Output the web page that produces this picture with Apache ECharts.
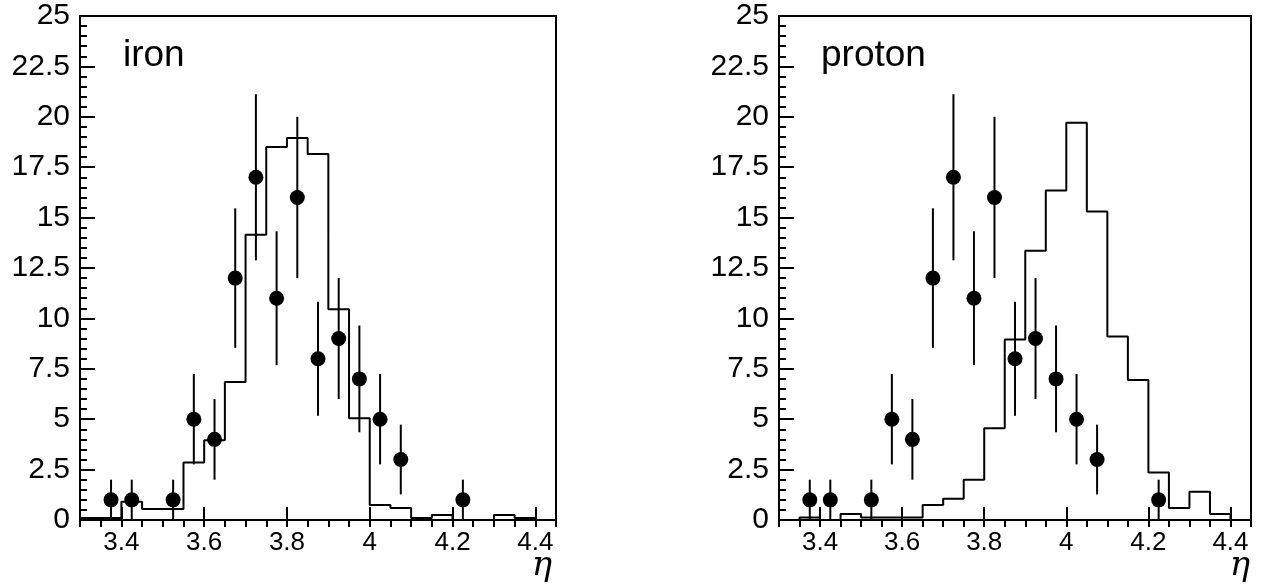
<!DOCTYPE html>
<html>
<head>
<meta charset="utf-8">
<script src="https://cdn.jsdelivr.net/npm/echarts@6/dist/echarts.min.js"></script>
<style>
html,body{margin:0;padding:0;background:#fff;}
#chart{width:1263px;height:587px;}
</style>
</head>
<body>
<div id="chart"></div>
<script>
// Bin left edges (width 0.05) and the last right edge
const binEdges = [3.30,3.35,3.40,3.45,3.50,3.55,3.60,3.65,3.70,3.75,3.80,3.85,3.90,3.95,4.00,4.05,4.10,4.15,4.20,4.25,4.30,4.35];
const lastEdge = 4.40;
// Simulated histograms
const ironHist   = [0.1,0.1,0.9,0.55,0.55,2.85,3.95,6.85,14.15,18.5,18.95,18.15,10.45,5.05,0.75,0.6,0.1,0.25,0,0,0.25,0.1];
const protonHist = [0,0.12,0,0.3,0.12,0.12,0.12,0.75,1.05,2.0,4.55,8.95,13.35,16.35,19.7,15.3,9.1,6.95,2.35,0.6,1.4,0.3];
// Measured data points (same in both panels)
const dataEta    = [3.375,3.425,3.525,3.575,3.625,3.675,3.725,3.775,3.825,3.875,3.925,3.975,4.025,4.075,4.225];
const dataCounts = [1,1,1,5,4,12,17,11,16,8,9,7,5,3,1];
const dataErrors = [1,1,1,2.24,2,3.46,4.12,3.32,4,2.83,3,2.65,2.24,1.73,1];
// Axis tick labels
const xLabelValues = [3.4,3.6,3.8,4.0,4.2,4.4];
const panelNames = ['iron','proton'];

const FONT = 'Liberation Sans';

function histPoints(vals){
  const pts = binEdges.map((e,i)=>[e, vals[i]]);
  pts.push([lastEdge, vals[vals.length-1]]);
  pts.push([lastEdge, 0]);
  return pts;
}
const scatterData = dataEta.map((x,i)=>[x, dataCounts[i]]);
const errData = dataEta.map((x,i)=>[x, dataCounts[i], Math.max(0, dataCounts[i]-dataErrors[i]), dataCounts[i]+dataErrors[i]]);

const grids = [
  {left:80, top:16, width:476, height:504},
  {left:779, top:16, width:472, height:504}
];

const option = {
  animation:false,
  backgroundColor:'#fff',
  grid: grids.map(g=>Object.assign({show:true, borderColor:'#000', borderWidth:2, backgroundColor:'transparent'}, g)),
  xAxis: [],
  yAxis: [],
  series: [],
  graphic: []
};

[0,1].forEach(gi=>{
  option.xAxis.push({
    type:'value', gridIndex:gi, min:3.3, max:4.45,
    axisLine:{show:true, onZero:false, lineStyle:{color:'#000', width:2}},
    axisTick:{show:true, inside:true, length:13, lineStyle:{color:'#000', width:2}, customValues:xLabelValues},
    axisLabel:{show:true, color:'#000', fontFamily:FONT, fontSize:26, margin:10, customValues:xLabelValues,
      formatter:v=>String(Math.round(v*10)/10)},
    splitLine:{show:false}
  });
  option.xAxis.push({
    type:'value', gridIndex:gi, min:3.3, max:4.45, interval:0.05,
    axisLine:{show:false},
    axisTick:{show:true, inside:true, length:7, lineStyle:{color:'#000', width:2}},
    axisLabel:{show:false},
    splitLine:{show:false}
  });
  option.yAxis.push({
    type:'value', gridIndex:gi, min:0, max:25, interval:2.5,
    axisLine:{show:true, onZero:false, lineStyle:{color:'#000', width:2}},
    axisTick:{show:true, inside:true, length:15, lineStyle:{color:'#000', width:2}},
    minorTick:{show:true, splitNumber:5, length:7, lineStyle:{color:'#000', width:2}},
    axisLabel:{show:true, color:'#000', fontFamily:FONT, fontSize:30, margin:10},
    splitLine:{show:false}
  });
  const xi = gi*2;
  option.series.push({
    type:'line', xAxisIndex:xi, yAxisIndex:gi, step:'end', showSymbol:false, symbol:'none',
    data: histPoints(gi===0 ? ironHist : protonHist),
    lineStyle:{color:'#000', width:2}, z:2
  });
  option.series.push({
    type:'custom', xAxisIndex:xi, yAxisIndex:gi, data:errData, z:3,
    renderItem:(params, api)=>{
      const p1 = api.coord([api.value(0), api.value(2)]);
      const p2 = api.coord([api.value(0), api.value(3)]);
      return {type:'line', shape:{x1:p1[0], y1:p1[1], x2:p2[0], y2:p2[1]}, style:{stroke:'#000', lineWidth:2}};
    }
  });
  option.series.push({
    type:'scatter', xAxisIndex:xi, yAxisIndex:gi, data:scatterData, symbol:'circle', symbolSize:15,
    itemStyle:{color:'#000', opacity:1}, z:4
  });
  option.graphic.push({
    type:'text', left: gi===0 ? 123 : 821, top: 37,
    style:{text:panelNames[gi], fill:'#000', font:'37px "'+FONT+'"'}
  });
  option.graphic.push({
    type:'text', x: gi===0 ? 542 : 1240, y: 566,
    style:{text:'η', fill:'#000', font:'italic 34px "DejaVu Serif"', align:'center', verticalAlign:'middle'}
  });
});

const chart = echarts.init(document.getElementById('chart'), null, {renderer:'canvas'});
chart.setOption(option);
</script>
</body>
</html>
